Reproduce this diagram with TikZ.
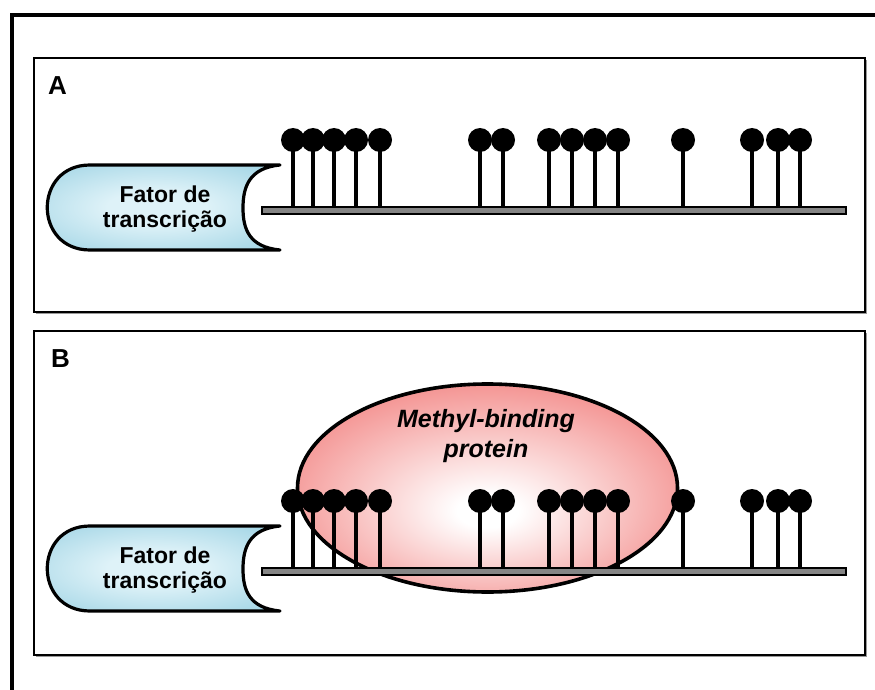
\documentclass[tikz,border=0pt]{standalone}
\usepackage{fontspec}
\setmainfont{Liberation Sans}
\usetikzlibrary{positioning,shapes.geometric}

\definecolor{tfblue}{RGB}{140,202,222}
\definecolor{tflight}{RGB}{222,242,248}
\definecolor{mbpred}{RGB}{240,112,110}
\pgfdeclareradialshading{tfshade}{\pgfpoint{0bp}{0bp}}{color(0bp)=(tflight); color(10bp)=(tflight); color(42bp)=(tfblue); color(50bp)=(tfblue)}
\pgfdeclareradialshading{mbpshade}{\pgfpoint{0bp}{-6bp}}{color(0bp)=(white); color(4bp)=(white); color(36bp)=(mbpred); color(50bp)=(mbpred)}

\tikzset{
	frame/.style={line width=3.6pt},
	panel/.style={draw=black, fill=white, line width=1.4pt},
	panelshadow/.style={fill=black!40},
	panellabel/.style={font=\bfseries\fontsize{26}{28}\selectfont, inner sep=0pt, anchor=base west},
	tf/.style={draw=black, line width=3.2pt, line join=round, line cap=round, shading=tfshade},
	tflabel/.style={font=\bfseries\fontsize{23}{25}\selectfont, align=center, inner sep=0pt},
	dna/.style={draw=black, fill=black!48, line width=1.1pt},
	stem/.style={line width=3.2pt},
	methyl/.style={circle, fill=black, minimum size=24pt, inner sep=0pt},
	mbp/.style={ellipse, draw=black, line width=3.6pt, shade, shading=mbpshade, minimum width=380pt, minimum height=208pt},
	mbplabel/.style={font=\bfseries\itshape\fontsize{25}{30}\selectfont, align=center, inner sep=0pt}
}

\begin{document}
\begin{tikzpicture}[x=1pt, y=-1pt]
	\useasboundingbox (0,0) rectangle (875,690);
	% outer frame, cut by the page edge
	\coordinate (frame-bl) at (12,690);
	\coordinate (frame-tl) at (12,15);
	\coordinate (frame-tr) at (875,15);
	\draw[frame] (frame-bl) -- (frame-tl) -- (frame-tr);

	% the two panels
	\fill[panelshadow] (36,60) rectangle (867,314);
	\draw[panel] (34,58) rectangle (865,312);
	\fill[panelshadow] (36,333) rectangle (867,657);
	\draw[panel] (34,331) rectangle (865,655);
	\node[panellabel] (a-label) at (48,95) {A};
	\node[panellabel] (b-label) at (51,367) {B};

	% protein sitting on the methylated sites
	\node[mbp] (mbp) at (487.5,488) {};
	\node[mbplabel] (mbp-label) at (486,436) {Methyl-binding\\protein};

	\foreach \p/\dy in {a/0, b/361} {
		\begin{scope}[yshift=-\dy pt]
			\shadedraw[tf] (280,165) -- (90,165) .. controls (33,165) and (33,250) .. (90,250) -- (280,250)
				.. controls (249,247) and (243,229) .. (243,208) .. controls (243,187) and (249,168) .. (280,165) -- cycle;
			\node[tflabel] (\p-tf) at (165,209) {Fator de\\transcrição};
			\foreach \x [count=\i] in {293,313,334,356,380,480,503,549,572,595,618,683,752,778,800} {
				\coordinate (\p-base-\i) at (\x,210);
				\node[methyl] (\p-site-\i) at (\x,140) {};
				\draw[stem] (\p-base-\i) -- (\p-site-\i.center);
			}
			\draw[dna] (262,207) rectangle (846,214);
		\end{scope}
	}
\end{tikzpicture}
\end{document}
